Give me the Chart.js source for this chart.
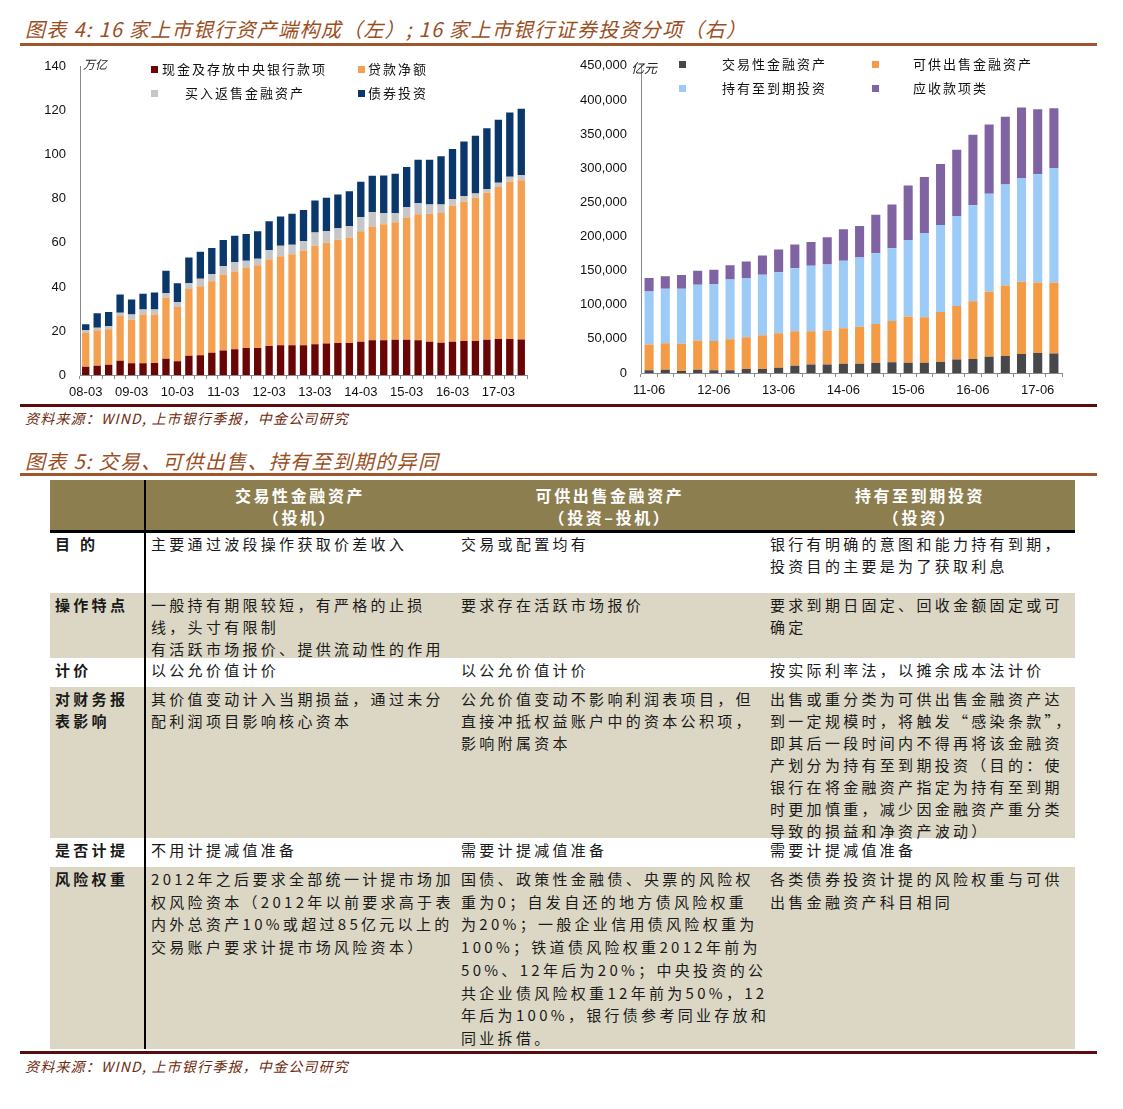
<!DOCTYPE html>
<html>
<head>
<meta charset="utf-8">
<script src="https://cdn.jsdelivr.net/npm/chart.js@4.4.1/dist/chart.umd.min.js"></script>
<style>
  html, body { margin:0; padding:0; background:#fff; }
  body { width:1123px; height:1109px; position:relative; overflow:hidden; font-family:"Noto Sans CJK SC", sans-serif; }
  .abs { position:absolute; }
  .title { font-size:20px; font-style:italic; color:#9B4F1F; white-space:nowrap; letter-spacing:1.3px; }
  .src { font-size:14px; font-style:italic; color:#6E2A0C; white-space:nowrap; letter-spacing:1.2px; }
  .hline { height:3px; background:#A0562A; left:20px; width:1077px; }
  .dline { height:3px; background:#5A0C0C; left:20px; width:1077px; }
  .leg { font-size:13px; letter-spacing:2px; color:#111; white-space:nowrap; line-height:16px; }
  .sq { width:7px; height:7px; }
  .unit { font-size:12px; font-style:italic; color:#222; white-space:nowrap; }
  #tbl { left:50px; top:480px; width:1025px; }
  .row { display:flex; width:1025px; }
  .cell { box-sizing:border-box; white-space:nowrap; font-size:15px; letter-spacing:3.3px; line-height:22px; color:#1a1a1a; padding-left:6px; padding-top:1px; overflow:visible; }
  .c0 { width:95px; font-weight:bold; padding-left:5px; }
  .c1, .c2, .c3 { width:310px; }
  .c3 { padding-left:5px; }
  .hdr { background:#8C7E4F; height:50px; }
  .hdr .cell { color:#fff; font-weight:bold; font-size:16px; letter-spacing:2.6px; text-align:center; line-height:22px; padding-top:4px; padding-left:0; }
  .beige { background:#DCD7C5; }
  .tall .cell { line-height:22.7px; }
</style>
</head>
<body>
<div class="abs title" style="left:25px;top:14px;">图表 4: 16 家上市银行资产端构成（左）; 16 家上市银行证券投资分项（右）</div>
<div class="abs hline" style="top:43px;"></div>

<canvas id="c1" class="abs" width="515" height="357" style="left:20px;top:45px;"></canvas>
<canvas id="c2" class="abs" width="510" height="356" style="left:560px;top:44px;"></canvas>
<div class="abs unit" style="left:83px;top:55px;">万亿</div>
<div class="abs unit" style="left:631px;top:58px;font-size:13px;">亿元</div>
<div id="leg1"></div>
<div id="leg2"></div>

<div class="abs dline" style="top:404px;"></div>
<div class="abs src" style="left:25px;top:408px;">资料来源：WIND, 上市银行季报，中金公司研究</div>

<div class="abs title" style="left:25px;top:446px;">图表 5: 交易、可供出售、持有至到期的异同</div>
<div class="abs hline" style="top:473px;"></div>

<div id="tbl" class="abs">
  <div class="row hdr">
    <div class="cell c0"></div>
    <div class="cell c1">交易性金融资产<br>（投机）</div>
    <div class="cell c2">可供出售金融资产<br>（投资–投机）</div>
    <div class="cell c3">持有至到期投资<br>（投资）</div>
  </div>
  <div style="height:3px;background:#000;width:1025px;"></div>
  <div class="row" style="height:60px;">
    <div class="cell c0" style="padding-top:0;">目 的</div>
    <div class="cell c1" style="padding-top:0;">主要通过波段操作获取价差收入</div>
    <div class="cell c2" style="padding-top:0;">交易或配置均有</div>
    <div class="cell c3" style="padding-top:0;">银行有明确的意图和能力持有到期，<br>投资目的主要是为了获取利息</div>
  </div>
  <div class="row beige" style="height:65px;">
    <div class="cell c0">操作特点</div>
    <div class="cell c1">一般持有期限较短，有严格的止损<br>线，头寸有限制<br>有活跃市场报价、提供流动性的作用</div>
    <div class="cell c2">要求存在活跃市场报价</div>
    <div class="cell c3">要求到期日固定、回收金额固定或可<br>确定</div>
  </div>
  <div class="row" style="height:29px;">
    <div class="cell c0">计价</div>
    <div class="cell c1">以公允价值计价</div>
    <div class="cell c2">以公允价值计价</div>
    <div class="cell c3">按实际利率法，以摊余成本法计价</div>
  </div>
  <div class="row beige" style="height:151px;">
    <div class="cell c0">对财务报<br>表影响</div>
    <div class="cell c1">其价值变动计入当期损益，通过未分<br>配利润项目影响核心资本</div>
    <div class="cell c2">公允价值变动不影响利润表项目，但<br>直接冲抵权益账户中的资本公积项，<br>影响附属资本</div>
    <div class="cell c3">出售或重分类为可供出售金融资产达<br>到一定规模时，将触发“感染条款”，<br>即其后一段时间内不得再将该金融资<br>产划分为持有至到期投资（目的：使<br>银行在将金融资产指定为持有至到期<br>时更加慎重，减少因金融资产重分类<br>导致的损益和净资产波动）</div>
  </div>
  <div class="row" style="height:29px;">
    <div class="cell c0">是否计提</div>
    <div class="cell c1">不用计提减值准备</div>
    <div class="cell c2">需要计提减值准备</div>
    <div class="cell c3">需要计提减值准备</div>
  </div>
  <div class="row beige tall" style="height:182px;">
    <div class="cell c0">风险权重</div>
    <div class="cell c1">2012年之后要求全部统一计提市场加<br>权风险资本（2012年以前要求高于表<br>内外总资产10%或超过85亿元以上的<br>交易账户要求计提市场风险资本）</div>
    <div class="cell c2">国债、政策性金融债、央票的风险权<br>重为0；自发自还的地方债风险权重<br>为20%；一般企业信用债风险权重为<br>100%；铁道债风险权重2012年前为<br>50%、12年后为20%；中央投资的公<br>共企业债风险权重12年前为50%，12<br>年后为100%，银行债参考同业存放和<br>同业拆借。</div>
    <div class="cell c3">各类债券投资计提的风险权重与可供<br>出售金融资产科目相同</div>
  </div>
</div>
<div class="abs" style="left:144px;top:480px;width:2px;height:569px;background:#000;"></div>

<div class="abs dline" style="top:1051px;"></div>
<div class="abs src" style="left:25px;top:1056px;">资料来源：WIND, 上市银行季报，中金公司研究</div>

<script>
// ---------- Left chart data (万亿) ----------
const leftLabels = ['08-03','08-06','08-09','08-12','09-03','09-06','09-09','09-12','10-03','10-06','10-09','10-12',
  '11-03','11-06','11-09','11-12','12-03','12-06','12-09','12-12','13-03','13-06','13-09','13-12',
  '14-03','14-06','14-09','14-12','15-03','15-06','15-09','15-12','16-03','16-06','16-09','16-12',
  '17-03','17-06','17-09'];
const leftSeriesNames = ['现金及存放中央银行款项','贷款净额','买入返售金融资产','债券投资'];
const leftColors = ['#690505','#F5A050','#C6C6C6','#0B386A'];
const cashCB = [3.8,4.2,4.7,6.5,5.3,5.3,5.4,7.4,6.3,8.7,9.0,10.1,11.1,11.7,12.3,12.3,13.2,13.5,13.5,13.5,14.0,14.3,14.5,14.5,15.1,15.8,15.8,16.0,16.0,15.8,15.1,14.6,15.1,15.5,15.5,16.0,16.3,16.4,16.1];
const netLoans = [15.3,16.1,16.1,20.3,19.8,22.2,22.1,27.7,24.6,30.4,31.3,32.5,34.4,35.3,36.3,37.5,39.3,40.4,41.3,42.9,44.7,45.8,46.9,48.0,50.2,51.6,52.7,53.4,55.5,57.2,58.2,59.0,61.8,63.2,65.0,66.8,69.1,71.4,72.4];
const reverseRepo = [1.2,1.2,1.3,1.5,2.4,2.2,2.3,2.2,2.2,2.7,3.4,3.3,4.0,4.3,3.3,3.0,4.3,4.8,4.4,4.4,6.0,5.2,5.3,5.2,6.5,6.5,5.0,4.1,4.8,5.0,4.2,3.9,2.9,2.6,2.0,1.6,1.9,2.2,2.3];
const bondInv = [2.7,6.5,6.5,8.3,6.8,7.2,7.7,10.1,8.6,11.6,12.3,11.8,11.8,11.9,12.2,12.5,13.0,13.3,14.1,14.2,14.6,15.2,15.3,15.8,16.0,16.6,17.1,17.9,18.2,19.8,20.3,21.9,22.9,24.8,26.2,27.7,28.6,29.2,30.1];
const leftYTicks = [0,20,40,60,80,100,120,140];

// ---------- Right chart data (亿元) ----------
const rightLabels = ['11-06','11-09','11-12','12-03','12-06','12-09','12-12','13-03','13-06','13-09','13-12',
  '14-03','14-06','14-09','14-12','15-03','15-06','15-09','15-12','16-03','16-06','16-09','16-12',
  '17-03','17-06','17-09'];
const rightSeriesNames = ['交易性金融资产','可供出售金融资产','持有至到期投资','应收款项类'];
const rightColors = ['#46484C','#F39B47','#9DCBF8','#8063A3'];
const tradingAssets = [3900,4900,2900,4900,3900,3900,5800,5800,7800,10700,12600,12600,13600,13600,14600,15600,15100,15100,16000,19900,20400,23800,24800,27700,29200,28700];
const afsAssets = [37900,38800,39900,42700,42800,45700,46700,49600,50500,50500,48600,49600,52000,54000,57300,60700,67500,66500,73400,78300,84600,95300,103500,106000,103500,104000];
const htmInv = [77700,79700,80600,81700,83500,87500,86500,88500,89400,92400,95800,96700,98700,101500,103500,106400,112300,123500,127400,131700,140900,143300,147700,152100,158400,167600];
const receivables = [19500,18500,20000,20400,20900,20900,24300,28100,33100,34500,35000,39900,46100,46200,56400,64200,79700,82100,89400,97200,103100,101600,99200,103000,95300,87500];
const rightYTicks = [0,50000,100000,150000,200000,250000,300000,350000,400000,450000];

// ---------- Legends (HTML) ----------
function buildLegend(id, names, colors, spots) {
  const host = document.getElementById(id);
  names.forEach((n, i) => {
    const s = spots[i];
    const sq = document.createElement('div');
    sq.className = 'abs sq';
    sq.style.left = s.sx + 'px'; sq.style.top = s.sy + 'px'; sq.style.background = colors[i];
    host.appendChild(sq);
    const t = document.createElement('div');
    t.className = 'abs leg';
    t.style.left = s.tx + 'px'; t.style.top = (s.sy - 5) + 'px';
    t.textContent = n;
    host.appendChild(t);
  });
}
buildLegend('leg1', leftSeriesNames, leftColors, [
  {sx:151, sy:66, tx:162}, {sx:358, sy:66, tx:368}, {sx:151, sy:90, tx:185}, {sx:358, sy:90, tx:368}
]);
buildLegend('leg2', rightSeriesNames, rightColors, [
  {sx:679, sy:61, tx:722}, {sx:872, sy:61, tx:913}, {sx:679, sy:85, tx:722}, {sx:872, sy:85, tx:913}
]);

const tickFont = {family:'"Liberation Sans", Arial, sans-serif', size:13};

function makeChart(canvasId, labels, seriesNames, colors, seriesData, yTicks, yAxisWidth, barPct) {
  const yMax = yTicks[yTicks.length - 1];
  const step = yTicks[1] - yTicks[0];
  return new Chart(document.getElementById(canvasId), {
    type: 'bar',
    data: {
      labels: labels,
      datasets: seriesNames.map((n, i) => ({
        label: n, data: seriesData[i], backgroundColor: colors[i], borderWidth: 0,
        categoryPercentage: 1.0, barPercentage: barPct
      }))
    },
    options: {
      responsive: false, animation: false, locale: 'en-US',
      layout: { padding: { top: 0, right: 8, left: 0, bottom: 0 } },
      plugins: { legend: { display: false }, tooltip: { enabled: false } },
      scales: {
        x: {
          stacked: true,
          grid: { display: true, drawOnChartArea: false, drawTicks: true, tickLength: 4, color: '#8a8a8a', offset: true },
          border: { color: '#8a8a8a', width: 1 },
          ticks: {
            autoSkip: false, maxRotation: 0, minRotation: 0, padding: 6,
            font: tickFont, color: '#111',
            callback: function(v, i) { return i % 4 === 0 ? labels[i] : ''; }
          },
          afterFit: function(s) { s.height = 27; }
        },
        y: {
          stacked: true, min: 0, max: yMax,
          grid: { display: false, drawTicks: false },
          border: { color: '#8a8a8a', width: 1 },
          ticks: { stepSize: step, padding: 14, font: tickFont, color: '#111' },
          afterFit: function(s) { s.width = yAxisWidth; }
        }
      }
    }
  });
}

makeChart('c1', leftLabels, leftSeriesNames, leftColors, [cashCB, netLoans, reverseRepo, bondInv], leftYTicks, 60, 0.64);
makeChart('c2', rightLabels, rightSeriesNames, rightColors, [tradingAssets, afsAssets, htmInv, receivables], rightYTicks, 81, 0.56);
</script>
</body>
</html>
